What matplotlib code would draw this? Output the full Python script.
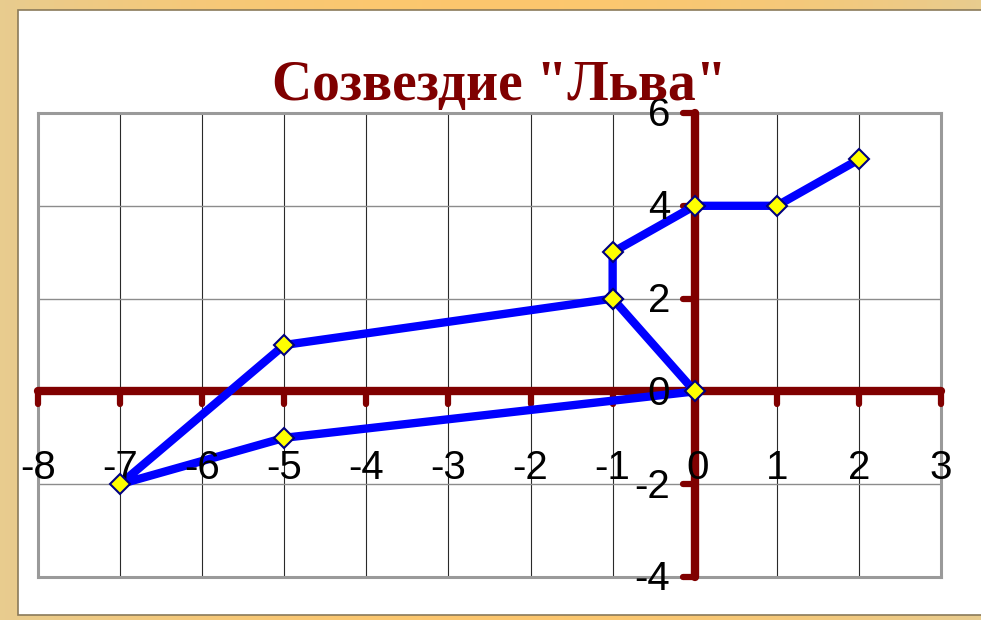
import numpy as np
import matplotlib
matplotlib.use("Agg")
import matplotlib.pyplot as plt
from matplotlib.markers import MarkerStyle, TICKDOWN, TICKLEFT
from matplotlib.patches import Rectangle

# star positions of the constellation, in drawing order
star_x = [2, 1, 0, -1, -1, -5, -7, -5, 0, -1]
star_y = [5, 4, 4, 3, 2, 1, -2, -1, 0, 2]

x_ticks = list(range(-8, 4))
y_ticks = list(range(-4, 7, 2))
title_text = 'Созвездие "Льва"'

axis_red = "#800000"
label_font = ["Liberation Sans", "DejaVu Sans"]

fig = plt.figure(figsize=(9.81, 6.2), dpi=100)

# slide background: orange gradient with a white panel
bg = fig.add_axes([0, 0, 1, 1], zorder=-10)
c_edge = np.array([0.91, 0.80, 0.56])
c_mid = np.array([0.99, 0.78, 0.43])
t = np.linspace(-1, 1, 200)
w = 1 - np.abs(t) ** 2
grad = c_edge[None, :] * (1 - w[:, None]) + c_mid[None, :] * w[:, None]
bg.imshow(grad[None, :, :], aspect="auto", extent=[0, 1, 0, 1])
bg.add_patch(Rectangle((18 / 981, 5 / 620), 1, 605 / 620, facecolor="white",
                       edgecolor="#8a7a5a", linewidth=1.2))
bg.set_xlim(0, 1)
bg.set_ylim(0, 1)
bg.axis("off")

ax = fig.add_axes([38 / 981, 43 / 620, 903 / 981, 464 / 620])
ax.set_xlim(-8, 3)
ax.set_ylim(-4, 6)
ax.set_facecolor("white")
for s in ax.spines.values():
    s.set_color("#9a9a9a")
    s.set_linewidth(2.2)
    s.set_zorder(1.5)
ax.set_xticks([])
ax.set_yticks([])

# grid lines
for xv in x_ticks:
    ax.axvline(xv, color="#2a2a2a", linewidth=0.8, zorder=1)
for yv in y_ticks:
    ax.axhline(yv, color="#8c8c8c", linewidth=1.0, zorder=1)

# coordinate cross in dark red with round ticks
ax.plot([x_ticks[0], x_ticks[-1]], [0, 0], color=axis_red, linewidth=6,
        solid_capstyle="round", zorder=2, clip_on=False)
ax.plot([0, 0], [y_ticks[0], y_ticks[-1]], color=axis_red, linewidth=6,
        solid_capstyle="round", zorder=2, clip_on=False)
ax.plot(x_ticks, [0] * len(x_ticks), linestyle="none",
        marker=MarkerStyle(TICKDOWN, capstyle="round"), markersize=9,
        markeredgewidth=4.5, markeredgecolor=axis_red, zorder=2, clip_on=False)
ax.plot([0] * len(y_ticks), y_ticks, linestyle="none",
        marker=MarkerStyle(TICKLEFT, capstyle="round"), markersize=9,
        markeredgewidth=4.5, markeredgecolor=axis_red, zorder=2, clip_on=False)

# tick labels
for xv in x_ticks:
    ax.text(xv + (0.04 if xv == 0 else 0), -1.65, str(xv), ha="center", va="center",
            fontsize=29, family=label_font, color="black", zorder=4)
for yv in y_ticks:
    ax.text(-0.3, yv - 0.05, str(yv), ha="right", va="center",
            fontsize=29, family=label_font, color="black", zorder=4, clip_on=False)

# the constellation
ax.plot(star_x, star_y, color="#0000ff", linewidth=6, solid_joinstyle="round",
        solid_capstyle="round", zorder=3)
ax.plot(star_x, star_y, linestyle="none", marker="D", markersize=10,
        markerfacecolor="#ffff00", markeredgecolor="#000080", markeredgewidth=1.5,
        zorder=5, clip_on=False)

fig.text(0.509, 1 - 100 / 620, title_text, ha="center", va="baseline",
         fontsize=40, fontweight="bold", family=["Liberation Serif", "DejaVu Serif"],
         color="#7f0000")

fig.savefig("out.png", dpi=100)
